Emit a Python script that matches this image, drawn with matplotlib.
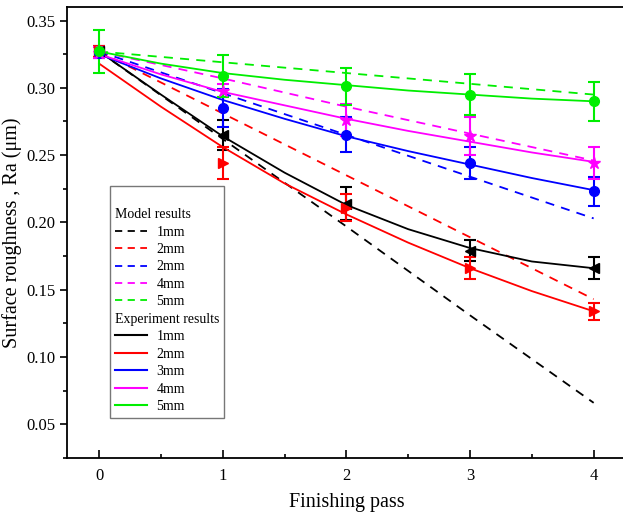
import numpy as np
import matplotlib
matplotlib.use("Agg")
from matplotlib import pyplot as plt
from matplotlib.lines import Line2D
from matplotlib.ticker import MultipleLocator

plt.rcParams["font.family"] = ["Liberation Serif", "DejaVu Serif"]
plt.rcParams["mathtext.fontset"] = "stix"

passes = [0, 1, 2, 3, 4]
colors = ["#000000", "#ff0000", "#0000ff", "#ff00ff", "#00ee00"]
model_labels = ["1mm", "2mm", "2mm", "4mm", "5mm"]
exp_labels = ["1mm", "2mm", "3mm", "4mm", "5mm"]
markers = ["<", ">", "o", "*", "o"]

# model results (dashed)
model_1 = [0.327, 0.262, 0.197, 0.131, 0.066]
model_2 = [0.327, 0.281, 0.235, 0.189, 0.143]
model_3 = [0.327, 0.296, 0.265, 0.234, 0.203]
model_4 = [0.327, 0.307, 0.286, 0.266, 0.246]
model_5 = [0.327, 0.319, 0.311, 0.303, 0.295]

# experiment fitted curves, read at half-pass steps
curve_x = [0, 0.5, 1, 1.5, 2, 2.5, 3, 3.5, 4]
curve_1 = [0.327, 0.295, 0.264, 0.237, 0.213, 0.195, 0.181, 0.171, 0.166]
curve_2 = [0.318, 0.286, 0.256, 0.229, 0.206, 0.185, 0.166, 0.149, 0.134]
curve_3 = [0.325, 0.307, 0.291, 0.277, 0.264, 0.253, 0.243, 0.233, 0.224]
curve_4 = [0.325, 0.310, 0.297, 0.287, 0.277, 0.268, 0.260, 0.252, 0.245]
curve_5 = [0.327, 0.318, 0.311, 0.306, 0.302, 0.298, 0.295, 0.292, 0.290]

# experiment measured points and errors
exp_1 = [0.327, 0.265, 0.214, 0.179, 0.166]
err_1 = [0.004, 0.011, 0.012, 0.008, 0.008]
exp_2 = [0.327, 0.244, 0.211, 0.166, 0.134]
err_2 = [0.004, 0.012, 0.010, 0.008, 0.0065]
exp_3 = [0.326, 0.285, 0.265, 0.244, 0.223]
err_3 = [0.004, 0.014, 0.013, 0.012, 0.011]
exp_4 = [0.326, 0.298, 0.276, 0.264, 0.244]
err_4 = [0.004, 0.005, 0.012, 0.014, 0.012]
exp_5 = [0.327, 0.309, 0.301, 0.295, 0.290]
err_5 = [0.016, 0.0155, 0.014, 0.015, 0.0145]

models = [model_1, model_2, model_3, model_4, model_5]
curves = [curve_1, curve_2, curve_3, curve_4, curve_5]
exps = [exp_1, exp_2, exp_3, exp_4, exp_5]
errs = [err_1, err_2, err_3, err_4, err_5]

fig = plt.figure(figsize=(6.23, 5.13), dpi=100)
ax = fig.add_axes([0.1075, 0.1072, 0.897, 0.879])

for i in range(5):
    ax.plot(passes, models[i], color=colors[i], lw=1.3, dashes=(5, 4))
for i in range(5):
    ax.plot(curve_x, curves[i], color=colors[i], lw=1.3)
    ms = 9 if markers[i] == "*" else 7
    ax.errorbar(passes, exps[i], yerr=errs[i], fmt=markers[i], color=colors[i],
                ms=ms, capsize=4, elinewidth=1.5, capthick=1.5)

ax.set_xlim(-0.26, 4.26)
ax.set_ylim(0.025, 0.36)
ax.xaxis.set_major_locator(MultipleLocator(1))
ax.xaxis.set_minor_locator(MultipleLocator(0.5))
ax.yaxis.set_major_locator(MultipleLocator(0.05))
ax.yaxis.set_minor_locator(MultipleLocator(0.025))
ax.yaxis.set_major_formatter(matplotlib.ticker.FormatStrFormatter("%.2f"))
ax.tick_params(axis="x", which="both", direction="in", labelsize=12, pad=7)
ax.tick_params(axis="x", which="major", length=6, width=1.2)
ax.tick_params(axis="x", which="minor", length=3, width=1.2)
ax.tick_params(axis="y", which="both", direction="out", labelsize=12)
ax.tick_params(axis="y", which="major", length=5, width=1.2)
ax.tick_params(axis="y", which="minor", length=3, width=1.2)
for s in ax.spines.values():
    s.set_linewidth(1.3)
ax.spines["right"].set_visible(False)

ax.set_xlabel("Finishing pass", fontsize=14.5, labelpad=7)
ax.set_ylabel("Surface roughness , Ra (\u03bcm)", fontsize=14.5, labelpad=3)

blank = Line2D([], [], color="none")
handles = [blank]
labels = ["Model results"]
for i in range(5):
    handles.append(Line2D([], [], color=colors[i], lw=1.3, dashes=(4, 3)))
    labels.append(model_labels[i])
handles.append(blank)
labels.append("Experiment results")
for i in range(5):
    handles.append(Line2D([], [], color=colors[i], lw=1.5))
    labels.append(exp_labels[i])

leg = ax.legend(handles, labels, loc="lower left", bbox_to_anchor=(0.077, 0.089),
                borderaxespad=0, fontsize=10, labelspacing=0.32, handlelength=2.3,
                handletextpad=0.7, fancybox=False, edgecolor="#777777",
                framealpha=1, borderpad=0.35, title=" ", title_fontsize=10)
leg.get_frame().set_linewidth(1.0)
# header rows: drop the handle so text starts at the left edge
rows = leg._legend_handle_box.get_children()[0].get_children()
for k in [0, 6]:
    rows[k].get_children()[0].width = 0
    rows[k].sep = 0

fig.savefig("out.png", dpi=100)
